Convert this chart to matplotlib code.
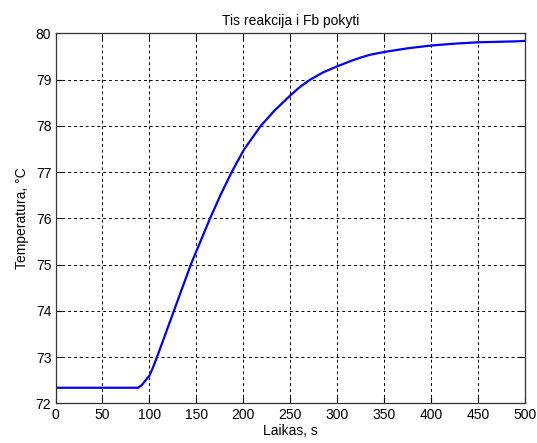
import matplotlib
matplotlib.use("Agg")
import matplotlib.pyplot as plt

# Laikas (s) ir temperatura (C), nuskaityta nuo grafiko
laikas = [0, 88, 92, 95, 100, 104, 108, 126, 144, 164.5, 176, 187.5, 201, 218.5,
          233, 250, 260, 271, 285, 300, 315, 325, 335, 350, 375, 400, 425, 450, 490, 500]
temperatura = [72.34, 72.34, 72.40, 72.48, 72.60, 72.79, 73.0, 74.0, 75.0, 76.0, 76.52, 77.0, 77.5, 78.0,
               78.33, 78.66, 78.84, 79.0, 79.16, 79.29, 79.41, 79.48, 79.54, 79.60, 79.68, 79.74, 79.78, 79.81, 79.83, 79.84]

x_ticks = list(range(0, 501, 50))
y_ticks = list(range(72, 81))

plt.rcParams['font.family'] = ['Liberation Sans', 'DejaVu Sans']
plt.rcParams['font.size'] = 10

fig = plt.figure(figsize=(5.37, 4.43), dpi=100)
fig.patch.set_facecolor('white')
ax = fig.add_axes([0.1034, 0.0892, 0.8743, 0.8352])

ax.plot(laikas, temperatura, color=(0, 0, 1), linewidth=1.6)

ax.set_xlim(0, 500)
ax.set_ylim(72, 80)
ax.set_xticks(x_ticks)
ax.set_yticks(y_ticks)
ax.grid(True, color='black', linestyle=(0, (3, 3)), linewidth=0.7)
ax.tick_params(direction='in', length=4, top=True, right=True, pad=3)
for s in ax.spines.values():
    s.set_linewidth(0.9)
    s.set_color('#333333')

ax.set_title('Tis reakcija i Fb pokyti', fontsize=10, pad=6)
ax.set_xlabel('Laikas, s', labelpad=2)
ax.set_ylabel('Temperatura, °C', labelpad=5)

fig.savefig('out.png', dpi=100)
